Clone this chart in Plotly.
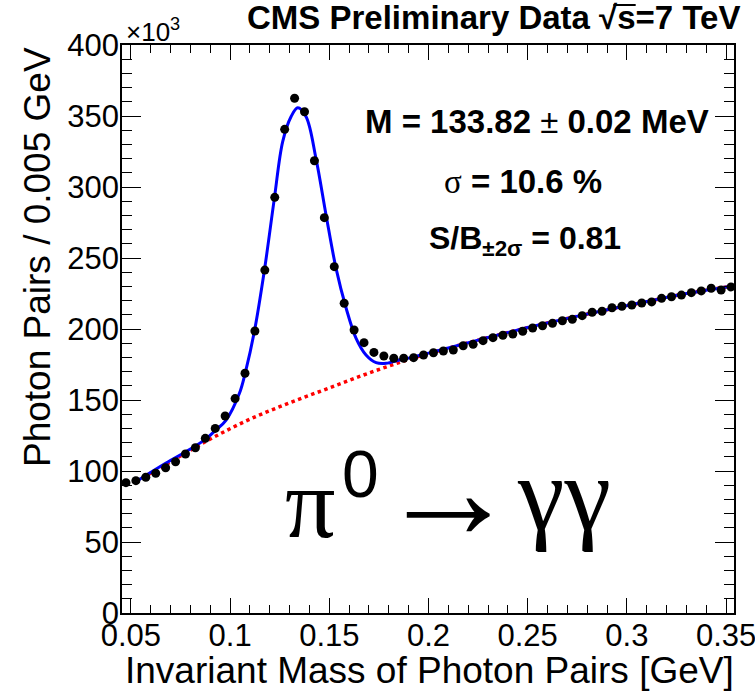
import plotly.graph_objects as go

# ---- data (values in units of 10^3 photon pairs) ----
mass_gev = [0.0475, 0.0525, 0.0575, 0.0625, 0.0675, 0.0725, 0.0775, 0.0825, 0.0875, 0.0925,
            0.0975, 0.1025, 0.1075, 0.1125, 0.1175, 0.1225, 0.1275, 0.1325, 0.1375, 0.1425,
            0.1475, 0.1525, 0.1575, 0.1625, 0.1675, 0.1725, 0.1775, 0.1825, 0.1875, 0.1925,
            0.1975, 0.2025, 0.2075, 0.2125, 0.2175, 0.2225, 0.2275, 0.2325, 0.2375, 0.2425,
            0.2475, 0.2525, 0.2575, 0.2625, 0.2675, 0.2725, 0.2775, 0.2825, 0.2875, 0.2925,
            0.2975, 0.3025, 0.3075, 0.3125, 0.3175, 0.3225, 0.3275, 0.3325, 0.3375, 0.3425,
            0.3475, 0.3525]
pairs_k = [91.8, 93.2, 95.6, 98.4, 102.3, 106.5, 112.0, 116.4, 123.0, 130.0,
           138.7, 151.0, 168.8, 198.6, 241.5, 292.7, 340.6, 362.5, 353.0, 318.5,
           278.4, 243.9, 218.1, 199.3, 190.4, 183.5, 181.0, 179.4, 179.4, 179.8,
           181.7, 183.3, 184.5, 185.2, 188.2, 189.2, 191.8, 193.9, 195.6, 196.5,
           198.4, 200.7, 202.3, 204.0, 205.8, 206.8, 209.4, 211.8, 212.5, 215.0,
           216.0, 216.9, 218.3, 219.1, 221.6, 222.7, 223.9, 225.6, 226.8, 228.7,
           227.5, 229.6]

fit_x = [0.0525, 0.0675, 0.0800, 0.0875, 0.0925, 0.0980, 0.1047, 0.1077, 0.1122, 0.1173,
         0.1223, 0.1265, 0.1307, 0.1341, 0.1383, 0.1433, 0.1484, 0.1534, 0.1585, 0.1635,
         0.1685, 0.1736, 0.1786, 0.1853, 0.1900, 0.2000, 0.2100, 0.2300, 0.2500, 0.2700,
         0.2900, 0.3100, 0.3300, 0.3520]
fit_k = [92.5, 105.4, 115.5, 122.3, 128.5, 135.9, 154.7, 169.5, 198.0, 241.5,
         292.0, 332.0, 349.5, 355.8, 349.5, 320.0, 280.0, 242.7, 214.6, 193.4,
         181.7, 176.3, 175.8, 178.2, 179.5, 183.0, 186.6, 194.0, 201.0, 207.5,
         213.5, 219.3, 225.0, 230.0]

bkg_x = [0.0525, 0.0700, 0.0900, 0.1100, 0.1300, 0.1500, 0.1700, 0.1900, 0.2100, 0.2300,
         0.2500, 0.2700, 0.2900, 0.3100, 0.3300, 0.3520]
bkg_k = [92.5, 106.5, 122.5, 136.5, 148.0, 158.5, 169.0, 178.5, 186.5, 194.0,
         201.0, 207.5, 213.5, 219.3, 225.0, 230.0]

x_tick_vals = [0.05, 0.10, 0.15, 0.20, 0.25, 0.30, 0.35]
x_tick_text = ["0.05", "0.1", "0.15", "0.2", "0.25", "0.3", "0.35"]
y_tick_vals = [0, 50, 100, 150, 200, 250, 300, 350, 400]
y_tick_text = ["0", "50", "100", "150", "200", "250", "300", "350", "400"]

X_RANGE = [0.0455, 0.3540]
Y_RANGE = [0, 400]

# ---- layout geometry (pixels) ----
W, H = 755, 694
L, R, T, B = 122, 734, 45, 613


def px(xp):
    return (xp - L) / (R - L)


def py(yp):
    return (B - yp) / (B - T)


SANS = "Liberation Sans, Arial, Helvetica, sans-serif"
SERIF = "Liberation Serif, Times New Roman, serif"

fig = go.Figure()

fig.add_trace(go.Scatter(x=bkg_x, y=bkg_k, mode="lines", line_shape="spline",
                         line=dict(color="#ff0000", width=3.5, dash="dot"),
                         hoverinfo="skip", showlegend=False))
fig.add_trace(go.Scatter(x=fit_x, y=fit_k, mode="lines", line_shape="spline",
                         line=dict(color="#0000ff", width=3),
                         hoverinfo="skip", showlegend=False))
fig.add_trace(go.Scatter(x=mass_gev, y=pairs_k, mode="markers",
                         marker=dict(color="black", size=9, symbol="circle"),
                         showlegend=False))
# invisible traces to activate mirrored (top/right) axes
fig.add_trace(go.Scatter(x=[], y=[], xaxis="x2", yaxis="y", showlegend=False))
fig.add_trace(go.Scatter(x=[], y=[], xaxis="x", yaxis="y2", showlegend=False))

axis_common = dict(showgrid=False, zeroline=False, showline=True, linecolor="black",
                   linewidth=1.5, ticks="inside", tickcolor="black", tickwidth=1,
                   automargin=False)
minor_x = dict(dtick=0.01, tick0=0.05, ticklen=8, ticks="inside", tickcolor="black", tickwidth=1)
minor_y = dict(dtick=10, tick0=0, ticklen=10, ticks="inside", tickcolor="black", tickwidth=1)

fig.update_layout(
    width=W, height=H,
    margin=dict(l=L, r=W - R, t=T, b=H - B, pad=0, autoexpand=False),
    paper_bgcolor="white", plot_bgcolor="white",
    font=dict(family=SANS, color="black"),
    xaxis=dict(range=X_RANGE, tickvals=x_tick_vals, ticktext=x_tick_text, ticklen=15,
               minor=minor_x, tickfont=dict(size=31, family=SANS), mirror=True,
               ticklabeloverflow="allow", ticklabelstandoff=-6, **axis_common),
    yaxis=dict(range=Y_RANGE, tickvals=y_tick_vals, ticktext=y_tick_text, ticklen=19,
               minor=minor_y, tickfont=dict(size=31, family=SANS), mirror=True,
               ticklabeloverflow="allow", ticklabelstandoff=-5, **axis_common),
    xaxis2=dict(range=X_RANGE, overlaying="x", side="top", anchor="y", tickvals=x_tick_vals,
                showticklabels=False, ticklen=15, minor=minor_x, **axis_common),
    yaxis2=dict(range=Y_RANGE, overlaying="y", side="right", anchor="x", tickvals=y_tick_vals,
                showticklabels=False, ticklen=19, minor=minor_y, **axis_common),
)

ann = []
# axis titles
ann.append(dict(text="Invariant Mass of Photon Pairs [GeV]", x=px(736), y=py(670),
                xanchor="right", yanchor="middle", font=dict(size=37, family=SANS)))
ann.append(dict(text="Photon Pairs / 0.005 GeV", x=px(37), y=py(45), textangle=-90,
                xanchor="center", yanchor="top", font=dict(size=37, family=SANS)))
ann.append(dict(text="×10<sup>3</sup>", x=px(124), y=py(30), xanchor="left", yanchor="middle",
                font=dict(size=26, family=SANS)))
# header
HEADER_SIZE = 33
ann.append(dict(text="<b>CMS Preliminary Data √s=7 TeV</b>",
                x=px(742), y=py(18), xanchor="right", yanchor="middle",
                font=dict(size=HEADER_SIZE, family=SANS)))
# fit results
ann.append(dict(text="<b>M = 133.82 </b>±<b> 0.02 MeV</b>", x=px(711), y=py(122),
                xanchor="right", yanchor="middle", font=dict(size=33, family=SANS)))
ann.append(dict(text="<span style='font-family:Liberation Serif'>σ</span><b> = 10.6 %</b>",
                x=px(442), y=py(182), xanchor="left", yanchor="middle", font=dict(size=33, family=SANS)))
ann.append(dict(text="<b>S/B<sub>±2σ</sub> = 0.81</b>", x=px(427), y=py(240),
                xanchor="left", yanchor="middle", font=dict(size=32, family=SANS)))
# process label  (pi, superscript 0, arrow, gamma gamma)
ann.append(dict(text="π", x=px(283), y=py(503), xanchor="left", yanchor="middle",
                font=dict(size=100, family=SERIF)))
ann.append(dict(text="0", x=px(340), y=py(474), xanchor="left", yanchor="middle",
                font=dict(size=66, family="Liberation Sans Narrow, Liberation Sans, sans-serif")))
ann.append(dict(text="→", x=px(448), y=py(490), xanchor="center", yanchor="middle",
                font=dict(size=140, family=SERIF)))
ann.append(dict(text="γγ", x=px(564), y=py(493), xanchor="center", yanchor="middle",
                font=dict(size=105, family=SERIF)))

for a in ann:
    a.update(xref="paper", yref="paper", showarrow=False)
fig.update_layout(annotations=ann)

# overline of the "s" in sqrt(s)
s_right = 742 - 3.252 * HEADER_SIZE
s_left = s_right - 0.556 * HEADER_SIZE
fig.add_shape(type="line", xref="paper", yref="paper",
              x0=px(s_left - 3), x1=px(s_right + 1), y0=py(5), y1=py(5),
              line=dict(color="black", width=2))

fig.write_html("out.html")
